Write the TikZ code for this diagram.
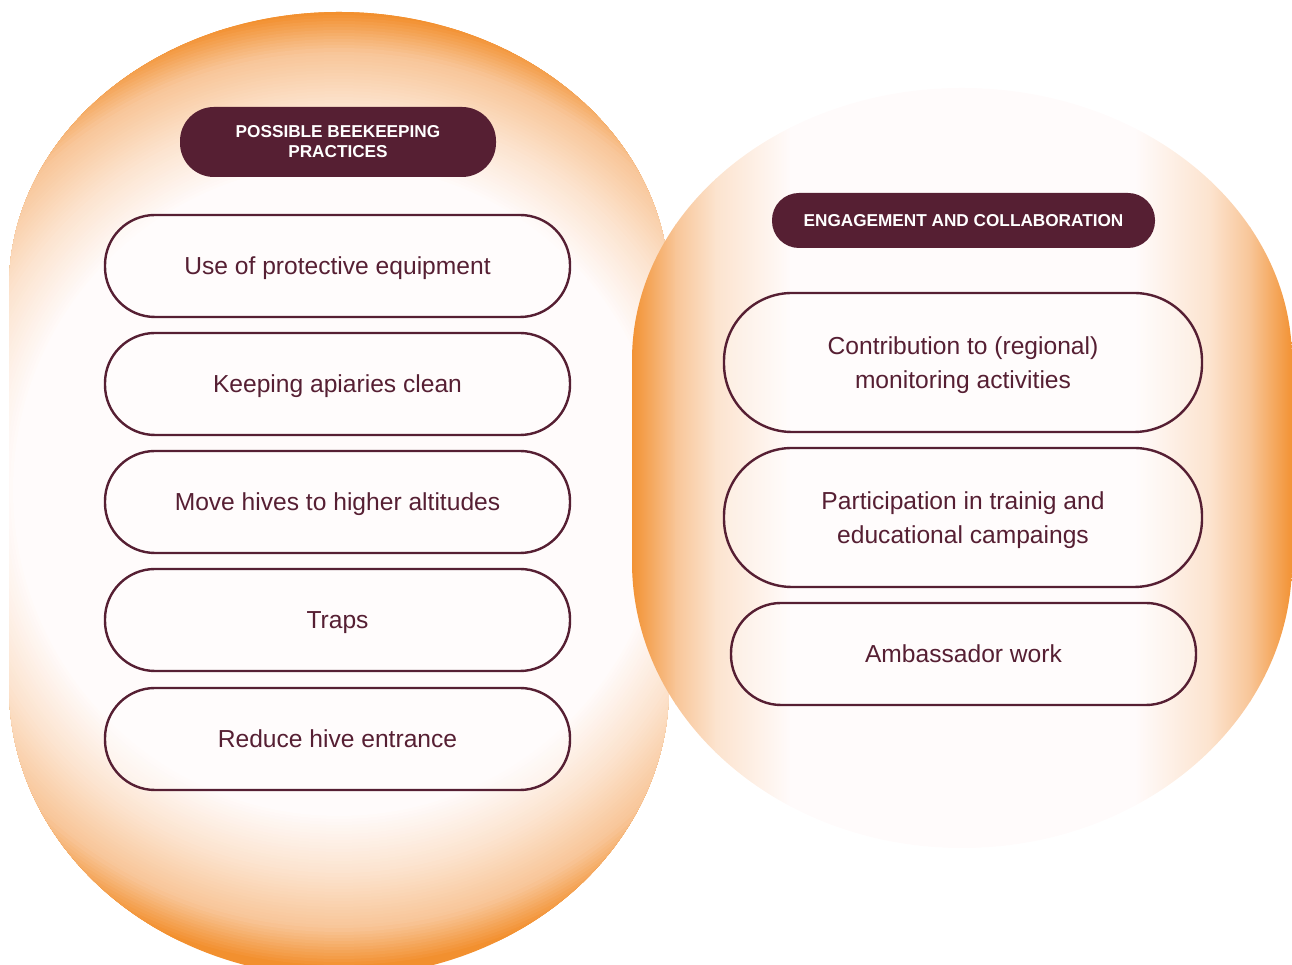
\documentclass[tikz,border=0pt]{standalone}
\usepackage{fontspec}
\setmainfont{Liberation Sans}
\definecolor{ora}{HTML}{F2902F}
\definecolor{pea}{HTML}{F8C597}
\definecolor{lpe}{HTML}{FCE3CE}
\definecolor{wht}{HTML}{FFFBFB}
\definecolor{wine}{HTML}{561F33}
\tikzset{
  pillbox/.style={draw=wine, line width=2.4pt, fill=white, fill opacity=0.35, text opacity=1, text=wine,
    font=\fontsize{24.6}{34.5}\selectfont, align=center, inner sep=0pt, text depth=-1pt},
  headbox/.style={fill=wine, text=white, font=\fontsize{17.2}{20}\selectfont\bfseries, align=center, inner sep=0pt}
}
\begin{document}
\begin{tikzpicture}[x=1pt,y=1pt]
\useasboundingbox (0,0) rectangle (1292,965);
\clip (0,0) rectangle (1292,965);
% left blob: circular radial gradient built from rings
\begin{scope}
  \clip (9,278) -- (9,678) arc[start angle=180,end angle=0,x radius=330,y radius=275]
        -- (669,278) arc[start angle=0,end angle=-180,x radius=330,y radius=290] -- cycle;
  \fill[ora] (0,-20) rectangle (680,965);
  \foreach \r in {478,475,...,440} {
    \pgfmathtruncatemacro\p{min(100,(\r-440)*100/38)}
    \fill[ora!\p!pea] (339,475) circle[radius=\r];
  }
  \foreach \r in {438,435,...,385} {
    \pgfmathtruncatemacro\p{(\r-385)*100/55}
    \fill[pea!\p!lpe] (339,475) circle[radius=\r];
  }
  \foreach \r in {383,380,...,325} {
    \pgfmathtruncatemacro\p{max(0,(\r-325)*100/60)}
    \fill[lpe!\p!wht] (339,475) circle[radius=\r];
  }
\end{scope}
% right blob: horizontal gradient
\begin{scope}
  \clip (632,403) -- (632,605) arc[start angle=180,end angle=0,x radius=330,y radius=272]
        -- (1292,403) arc[start angle=0,end angle=-180,x radius=330,y radius=286] -- cycle;
  \shade[left color=ora, right color=pea] (630,100) rectangle (676,900);
  \shade[left color=pea, right color=lpe] (675,100) rectangle (716,900);
  \shade[left color=lpe, right color=wht] (715,100) rectangle (791,900);
  \fill[wht] (790,100) rectangle (1136,900);
  \shade[left color=wht, right color=lpe] (1135,100) rectangle (1211,900);
  \shade[left color=lpe, right color=pea] (1210,100) rectangle (1251,900);
  \shade[left color=pea, right color=ora] (1250,100) rectangle (1294,900);
\end{scope}
% left column
\node[headbox, minimum width=316pt, minimum height=70pt, rounded corners=34pt] (hL) at (338,823)
  {POSSIBLE BEEKEEPING\\PRACTICES};
\node[pillbox, minimum width=465pt, minimum height=102pt, rounded corners=50pt] (L1) at (337.5,699) {Use of protective equipment};
\node[pillbox, minimum width=465pt, minimum height=102pt, rounded corners=50pt] (L2) at (337.5,581) {Keeping apiaries clean};
\node[pillbox, minimum width=465pt, minimum height=102pt, rounded corners=50pt] (L3) at (337.5,463) {Move hives to higher altitudes};
\node[pillbox, minimum width=465pt, minimum height=102pt, rounded corners=50pt] (L4) at (337.5,345) {Traps};
\node[pillbox, minimum width=465pt, minimum height=102pt, rounded corners=50pt] (L5) at (337.5,226) {Reduce hive entrance};
% right column
\node[headbox, minimum width=383pt, minimum height=55pt, rounded corners=27pt] (hR) at (963.5,744.5)
  {ENGAGEMENT AND COLLABORATION};
\node[pillbox, minimum width=478pt, minimum height=139pt, rounded corners=68pt] (R1) at (963,602.5)
  {Contribution to (regional)\\monitoring activities};
\node[pillbox, minimum width=478pt, minimum height=139pt, rounded corners=68pt] (R2) at (963,447.5)
  {Participation in trainig and\\educational campaings};
\node[pillbox, minimum width=465pt, minimum height=102pt, rounded corners=50pt] (R3) at (963.5,311) {Ambassador work};
\end{tikzpicture}
\end{document}
